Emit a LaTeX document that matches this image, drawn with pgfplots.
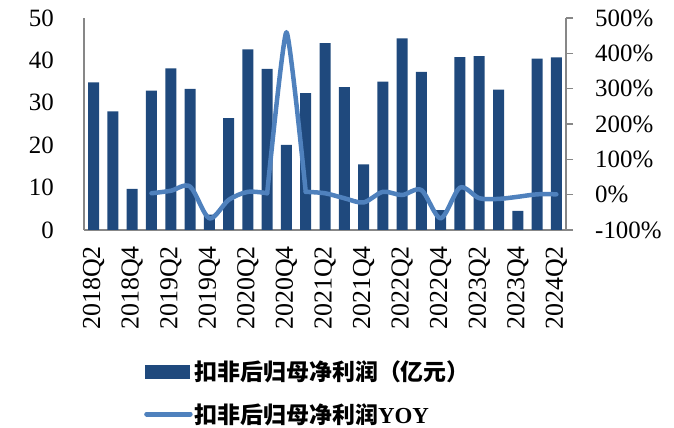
\documentclass[border=0pt]{standalone}
\usepackage{pgfplots}
\pgfplotsset{compat=1.18}
\usepackage{fontspec}
\setmainfont{Liberation Serif}
\newfontfamily\cjk{Noto Sans CJK SC}
\definecolor{barblue}{HTML}{1F497D}
\definecolor{lineblue}{HTML}{4F81BD}
\definecolor{axgray}{HTML}{878787}
\begin{document}
\begin{tikzpicture}
\useasboundingbox (0,0) rectangle (674bp,428bp);
\begin{axis}[
  at={(84bp,198bp)}, anchor=south west,
  scale only axis, width=482bp, height=212bp,
  xmin=-0.5, xmax=24.5, ymin=0, ymax=50,
  axis y line*=left, axis x line*=bottom,
  axis line style={axgray, line width=1.2bp, -},
  xtick={0,2,...,24},
  xticklabels={2018Q2,2018Q4,2019Q2,2019Q4,2020Q2,2020Q4,2021Q2,2021Q4,2022Q2,2022Q4,2023Q2,2023Q4,2024Q2},
  xticklabel style={rotate=90, anchor=east, inner sep=0pt, font=\fontsize{26}{30}\selectfont},
  xticklabel shift=16bp,
  ytick={0,10,...,50},
  yticklabel style={inner sep=0pt},
  yticklabel shift=30bp,
  major tick length=0pt,
  tick label style={font=\fontsize{25}{30}\selectfont},
  /pgf/number format/assume math mode=true,
]
\addplot[ybar, bar width=11bp, fill=barblue, draw=none] coordinates {
(0,34.8) (1,28.0) (2,9.7) (3,32.9) (4,38.1) (5,33.3) (6,3.6) (7,26.4)
(8,42.6) (9,38.0) (10,20.1) (11,32.3) (12,44.1) (13,33.7) (14,15.5) (15,35.0)
(16,45.2) (17,37.3) (18,4.7) (19,40.8) (20,41.0) (21,33.1) (22,4.5) (23,40.4) (24,40.7)
};
\end{axis}
\begin{axis}[
  at={(84bp,198bp)}, anchor=south west,
  scale only axis, width=482bp, height=212bp,
  xmin=-0.5, xmax=24.5, ymin=-100, ymax=500,
  axis y line*=right, axis x line=none,
  axis line style={axgray, line width=1.2bp, -},
  ytick={-100,0,...,500},
  yticklabel={\pgfmathprintnumber{\tick}\%},
  yticklabel style={inner sep=0pt},
  yticklabel shift=22bp,
  tick align=outside, major tick length=7bp,
  tick style={axgray, line width=1.2bp},
  tick label style={font=\fontsize{25}{30}\selectfont},
  /pgf/number format/assume math mode=true,
  legend style={at={(0.1245,-0.608)}, anchor=north west, draw=none, fill=none,
    inner sep=0pt, row sep=17bp, font=\fontsize{23}{27}\selectfont,
    nodes={inner sep=2bp}},
  legend cell align=left,
  yoy/.style={lineblue, line width=4.5bp, smooth, line cap=round, line join=round},
]
\addlegendimage{legend image code/.code={\fill[barblue] (0bp,-6.5bp) rectangle (44bp,6.5bp);}}
\addlegendentry{{\cjk\bfseries 扣非后归母净利润（亿元）}}
\addplot[yoy, tension=0.5,
  legend image code/.code={\draw[lineblue, line width=5bp, line cap=round] (1.5bp,0bp) -- (45bp,0bp);}]
coordinates {
(3,4) (4,11) (5,23) (6,-67) (7,-15) (8,8) (9,4)
};
\addlegendentry{{\cjk\bfseries 扣非后归母净利润}\textbf{YOY}}
\addplot[yoy, tension=0.3, forget plot] coordinates {
(9,4) (10,460) (11,8)
};
\addplot[yoy, tension=0.5, forget plot] coordinates {
(11,8) (12,4) (13,-10) (14,-22)
(15,8) (16,-1) (17,13) (18,-67) (19,20) (20,-10) (21,-12) (22,-6) (23,1) (24,1)
};
\end{axis}
\end{tikzpicture}
\end{document}
